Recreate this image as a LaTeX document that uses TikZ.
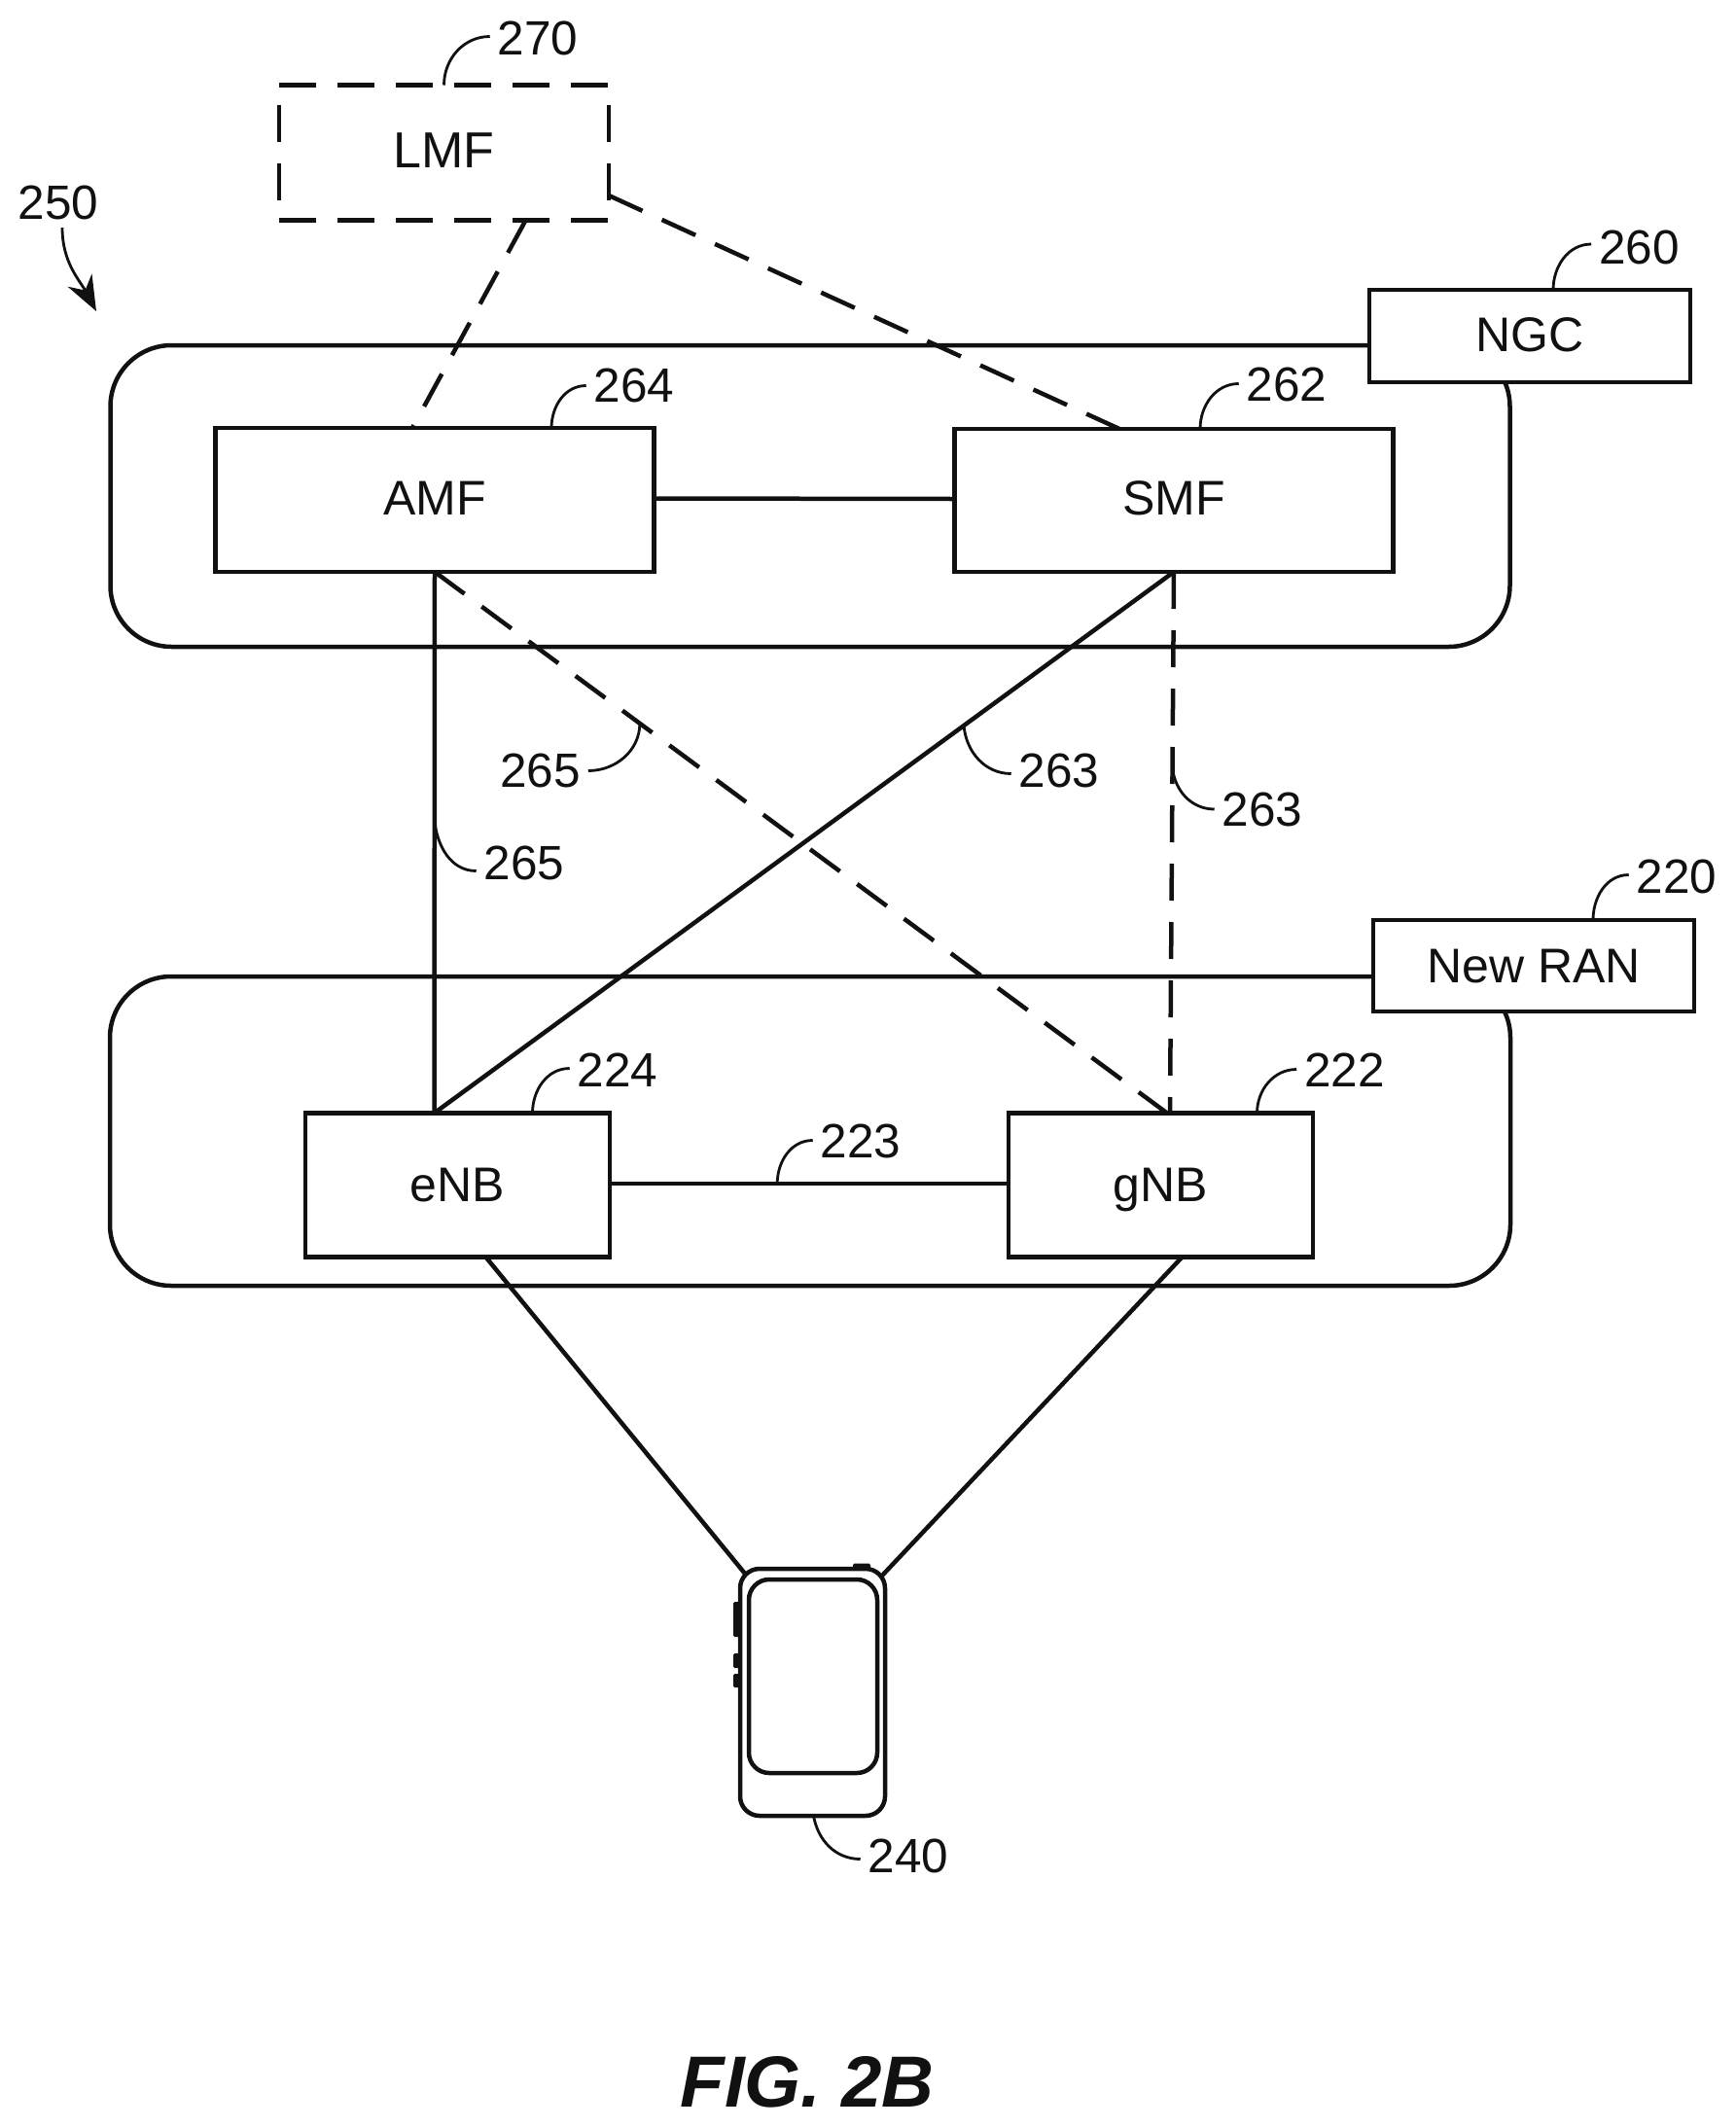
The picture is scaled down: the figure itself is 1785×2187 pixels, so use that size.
\documentclass[tikz,border=0pt]{standalone}
\usepackage{fontspec}
\setmainfont{Liberation Sans}
\usetikzlibrary{arrows.meta}
\tikzset{
  every node/.style={inner sep=0pt,outer sep=0pt},
  txt/.style={font=\fontsize{50}{52}\selectfont,text=ink,text depth=0pt},
  refnum/.style={font=\fontsize{49.5}{51}\selectfont,text=ink},
  boxnode/.style={draw=ink,line width=4.5pt,fill=white,txt},
  area/.style={draw=ink,line width=4.5pt,rounded corners=63pt},
  link/.style={draw=ink,line width=4.5pt},
  dashlink/.style={draw=ink,line width=4.5pt,dash pattern=on 38pt off 22pt},
  leader/.style={draw=ink,line width=2.8pt},
  phonebody/.style={draw=ink,line width=4.5pt,fill=white},
  btn/.style={fill=ink,rounded corners=1.5pt}
}
\definecolor{ink}{HTML}{111111}
\begin{document}
\begin{tikzpicture}[x=1pt,y=-1pt]
\useasboundingbox (0,0) rectangle (1785,2187);
\fill[white] (0,0) rectangle (1785,2187);
% large grouping outlines
\node[area,minimum width=1439pt,minimum height=310pt] (ngcarea) at (833,510) {};
\node[area,minimum width=1440pt,minimum height=318pt] (ranarea) at (833,1163) {};
% boxes
\node[txt,font=\fontsize{52}{54}\selectfont,text depth=4pt,fill=white,minimum width=339pt,minimum height=139pt] (lmf) at (456.5,157) {LMF};
\node[boxnode,text depth=4pt,minimum width=451pt,minimum height=148pt] (amf) at (447,514) {AMF};
\node[boxnode,text depth=4pt,minimum width=451pt,minimum height=147pt] (smf) at (1207,514.5) {SMF};
\node[boxnode,text depth=2pt,minimum width=330pt,minimum height=95pt] (ngc) at (1573,345.5) {NGC};
\node[boxnode,minimum width=330pt,minimum height=94pt] (ran) at (1577,993) {New RAN};
\node[boxnode,minimum width=313pt,minimum height=148pt] (enb) at (470.5,1218.5) {eNB};
\node[boxnode,minimum width=313pt,minimum height=148pt] (gnb) at (1193.5,1218.5) {gNB};
% dashed LMF outline
\draw[dashlink] (lmf.north west) -- (lmf.north east);
\draw[dashlink] (lmf.south west) -- (lmf.south east);
\draw[dashlink,dash phase=40pt] (lmf.north west) -- (lmf.south west);
\draw[dashlink,dash phase=40pt] (lmf.north east) -- (lmf.south east);
% phone
\node[phonebody,rounded corners=20pt,minimum width=149pt,minimum height=254pt] (phone) at (835.5,1740) {};
\node[phonebody,rounded corners=21pt,minimum width=132pt,minimum height=199pt] (screen) at (836,1723.5) {};
\node[btn,minimum width=7pt,minimum height=36pt] (btna) at (757.5,1665) {};
\node[btn,minimum width=7pt,minimum height=15pt] (btnb) at (757.5,1707.5) {};
\node[btn,minimum width=7pt,minimum height=14pt] (btnc) at (757.5,1728) {};
\node[btn,minimum width=18pt,minimum height=6pt] (btnd) at (886,1610.5) {};
% connectors
\draw[link] ([yshift=1.5pt]amf.east) -- ([yshift=1.5pt]smf.west);
\draw[link] (amf.south) -- coordinate[pos=.458] (a265) ([xshift=-24pt]enb.north);
\draw[link] (smf.south) -- coordinate[pos=.284] (a263) ([xshift=-24pt]enb.north);
\draw[dashlink] (amf.south) -- coordinate[pos=.28] (b265) ([xshift=6.5pt]gnb.north);
\draw[dashlink] (smf.south) -- coordinate[pos=.361] (b263) ([xshift=9.5pt]gnb.north);
\draw[dashlink] ([xshift=84pt]lmf.south) -- ([xshift=-23pt]amf.north);
\draw[dashlink] ([yshift=-44pt]lmf.east) -- ([xshift=-56pt]smf.north);
\draw[link] ([yshift=1.5pt]enb.east) -- coordinate[pos=.42] (a223) ([yshift=1.5pt]gnb.west);
\draw[link] ([xshift=29pt]enb.south) -- ([xshift=5pt,yshift=-5pt]phone.north west);
\draw[link] ([xshift=22pt]gnb.south) -- ([xshift=-3pt,yshift=-7pt]phone.north east);
% reference numerals
\node[refnum] (n270) at (553,39.5) {270};
\node[refnum] (n250) at (60,208.5) {250};
\node[refnum] (n260) at (1685.5,254) {260};
\node[refnum] (n264) at (652,396.5) {264};
\node[refnum] (n262) at (1323,395.5) {262};
\node[refnum] (n265b) at (555.5,792.5) {265};
\node[refnum] (n263a) at (1089,792.5) {263};
\node[refnum] (n263b) at (1298,832) {263};
\node[refnum] (n265a) at (539,887.5) {265};
\node[refnum] (n220) at (1724,901.5) {220};
\node[refnum] (n224) at (635,1100.5) {224};
\node[refnum] (n222) at (1382.5,1100.5) {222};
\node[refnum] (n223) at (885,1173.5) {223};
\node[refnum] (n240) at (934,1908.5) {240};
\node[font=\fontsize{74.5}{76}\selectfont\bfseries\itshape,text=ink] (fig) at (830,2141) {FIG. 2B};
% leaders
\draw[leader] (lmf.north) to[out=90,in=180] ([xshift=-8pt,yshift=2pt]n270.west);
\draw[leader] ([xshift=24pt]ngc.north) to[out=90,in=180] ([xshift=-8pt,yshift=3pt]n260.west);
\draw[leader] ([xshift=120pt]amf.north) to[out=90,in=180] ([xshift=-8pt]n264.west);
\draw[leader] ([xshift=27pt]smf.north) to[out=90,in=180] ([xshift=-8pt,yshift=1pt]n262.west);
\draw[leader] ([xshift=77pt]enb.north) to[out=90,in=180] ([xshift=-8pt,yshift=2pt]n224.west);
\draw[leader] (a223) to[out=90,in=180] ([xshift=-8pt,yshift=1pt]n223.west);
\draw[leader] ([xshift=99pt]gnb.north) to[out=90,in=180] ([xshift=-8pt,yshift=1pt]n222.west);
\draw[leader] ([xshift=61pt]ran.north) to[out=90,in=180] ([xshift=-8pt,yshift=2pt]n220.west);
\draw[leader] (a263) to[out=-85,in=180] ([xshift=-8pt,yshift=-3pt]n263a.west);
\draw[leader] (b263) to[out=-85,in=180] ([xshift=-8pt]n263b.west);
\draw[leader] (a265) to[out=-85,in=180] ([xshift=-8pt,yshift=-8pt]n265a.west);
\draw[leader] (b265) to[out=-90,in=0] ([xshift=8pt]n265b.east);
\draw[leader] ([xshift=1pt]phone.south) to[out=-80,in=180] ([xshift=-8pt,yshift=-3pt]n240.west);
\draw[leader,-{Stealth[length=36pt,width=28pt]}] ([xshift=4pt,yshift=-8pt]n250.south) to[out=-90,in=118] (99,320);
\end{tikzpicture}
\end{document}
